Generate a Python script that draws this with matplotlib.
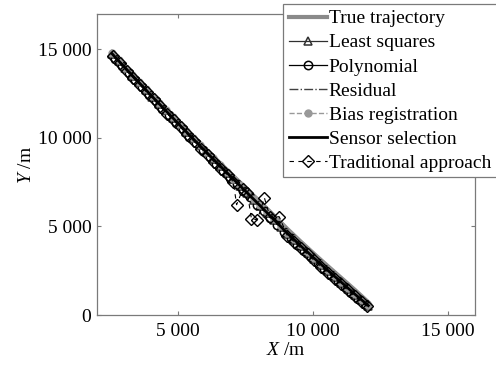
import matplotlib
matplotlib.use("Agg")
import matplotlib.pyplot as plt
from matplotlib.ticker import FuncFormatter

plt.rcParams["font.family"] = ["Liberation Serif", "DejaVu Serif"]
plt.rcParams["mathtext.fontset"] = "custom"
plt.rcParams["mathtext.rm"] = "Liberation Serif"
plt.rcParams["mathtext.it"] = "Liberation Serif:italic"

# true trajectory
true_x = [2550, 3050, 3550, 4050, 4550, 5050, 5550, 6050, 6550, 7050,
          7550, 8050, 8550, 9050, 9550, 10050, 10550, 11050, 11550, 12050]
true_y = [14820, 14000, 13200, 12400, 11620, 10850, 10090, 9340, 8590, 7850,
          7110, 6370, 5620, 4860, 4140, 3440, 2760, 2090, 1420, 720]

# line-only estimates (same x samples as the true track)
resid_y = [14790, 13970, 13170, 12360, 11570, 10780, 10000, 9240, 8470, 7710,
           6960, 6200, 5430, 4660, 3940, 3240, 2560, 1890, 1210, 560]
sensor_y = [14770, 13950, 13140, 12330, 11540, 10750, 9970, 9200, 8440, 7680,
            6920, 6160, 5390, 4620, 3900, 3200, 2520, 1850, 1180, 530]

# marker estimates
est_x = [2550, 2800, 3050, 3300, 3550, 3800, 4050, 4300, 4550, 4800,
         5050, 5300, 5550, 5800, 6050, 6300, 6550, 6800, 7050, 7300,
         7550, 7800, 8050, 8300, 8550, 8800, 9050, 9300, 9550, 9800,
         10050, 10300, 10550, 10800, 11050, 11300, 11550, 11800, 12050]
ls_y = [14760, 14350, 13950, 13520, 13150, 12720, 12340, 11930, 11560, 11140,
        10770, 10360, 9980, 9580, 9200, 8800, 8420, 8030, 7660, 7270,
        6890, 6520, 6130, 5760, 5360, 4990, 4590, 4230, 3870, 3520,
        3170, 2820, 2480, 2150, 1810, 1470, 1140, 820, 520]
bias_y = [14790, 14380, 13960, 13560, 13150, 12750, 12350, 11960, 11560, 11170,
          10770, 10390, 10000, 9610, 9230, 8840, 8460, 8080, 7700, 7320,
          6950, 6570, 6190, 5810, 5420, 5040, 4650, 4290, 3930, 3580,
          3230, 2880, 2540, 2210, 1870, 1530, 1190, 870, 560]

poly_x = [2675, 2925, 3175, 3425, 3675, 3925, 4175, 4425, 4675, 4925,
          5175, 5425, 5675, 5925, 6175, 6425, 6675, 6925, 7175, 7425,
          7675, 7925, 8175, 8425, 8675, 8925, 9175, 9425, 9675, 9925,
          10175, 10425, 10675, 10925, 11175, 11425, 11675, 11925]
poly_y = [14480, 14060, 13660, 13250, 12860, 12440, 12060, 11650, 11270, 10860,
          10490, 10080, 9700, 9300, 8930, 8520, 8160, 7750, 7400, 6990,
          6650, 6240, 5880, 5470, 5110, 4700, 4350, 3970, 3640, 3270,
          2940, 2580, 2260, 1910, 1590, 1240, 930, 610]

trad_x = [2600, 2850, 3100, 3350, 3600, 3850, 4100, 4350, 4600, 4850,
          5100, 5350, 5600, 5850, 6100, 6350, 6600, 6850, 7050, 7170,
          7400, 7570, 7720, 7940, 8200, 8400, 8750, 9050, 9300, 9550,
          9800, 10050, 10300, 10550, 10800, 11050, 11300, 11550, 11800, 12000]
trad_y = [14640, 14220, 13790, 13380, 12990, 12570, 12180, 11780, 11370, 10990,
          10590, 10200, 9800, 9400, 9040, 8630, 8270, 7880, 7520, 6230,
          7100, 6900, 5430, 5380, 6620, 5560, 5550, 4480, 4140, 3780,
          3420, 3080, 2730, 2400, 2060, 1730, 1390, 1060, 740, 500]

SPINE = "#7a7a7a"

fig = plt.figure(figsize=(4.96, 3.65), dpi=100)
ax = fig.add_axes([97 / 496, 1 - 315 / 365, (475 - 97) / 496, (315 - 14) / 365])

ax.plot(true_x, true_y, color="#8a8a8a", lw=3.0, label="True trajectory", zorder=2)
ax.plot(est_x, ls_y, color="#303030", lw=0.9, marker="^", ms=6, mfc="none",
        mec="#303030", mew=1.1, label="Least squares", zorder=3)
ax.plot(poly_x, poly_y, color="black", lw=0.9, marker="o", ms=6, mfc="none",
        mec="black", mew=1.1, label="Polynomial", zorder=3)
ax.plot(true_x, resid_y, color="#404040", lw=1.0, ls="-.", label="Residual", zorder=3)
ax.plot(est_x, bias_y, color="#999999", lw=1.0, ls="--", marker="o", ms=5,
        mfc="#999999", mec="#999999", label="Bias registration", zorder=3)
ax.plot(true_x, sensor_y, color="black", lw=2.0, label="Sensor selection", zorder=3)
ax.plot(trad_x, trad_y, color="black", lw=0.8, ls=(0, (4, 4)), marker="D", ms=6,
        mfc="none", mec="black", mew=1.0, label="Traditional approach", zorder=4)

ax.set_xlim(2000, 16000)
ax.set_ylim(0, 17000)
ax.set_xticks([5000, 10000, 15000])
ax.set_yticks([0, 5000, 10000, 15000])
fmt = FuncFormatter(lambda v, p: f"{int(v):,}".replace(",", " "))
ax.xaxis.set_major_formatter(fmt)
ax.yaxis.set_major_formatter(fmt)
ax.tick_params(direction="in", length=3, width=0.8, color=SPINE, labelsize=14,
               top=True, right=True)
ax.tick_params(axis="x", pad=6)
ax.tick_params(axis="y", pad=4)
for s in ax.spines.values():
    s.set_color(SPINE)
    s.set_linewidth(0.9)

ax.set_xlabel(r"$\it{X}$ /m", fontsize=14, labelpad=1)
ax.set_ylabel(r"$\it{Y}$ /m", fontsize=14, labelpad=2)

leg = fig.legend(loc="upper left", bbox_to_anchor=(283 / 496, 1 - 4 / 365),
                 bbox_transform=fig.transFigure, fontsize=14, frameon=True,
                 fancybox=False, edgecolor=SPINE, framealpha=1,
                 handlelength=1.95, handletextpad=0.1, labelspacing=0.33,
                 borderpad=0.3, borderaxespad=0)
leg.get_frame().set_linewidth(0.9)

fig.savefig("out.png", dpi=100, facecolor="white")
